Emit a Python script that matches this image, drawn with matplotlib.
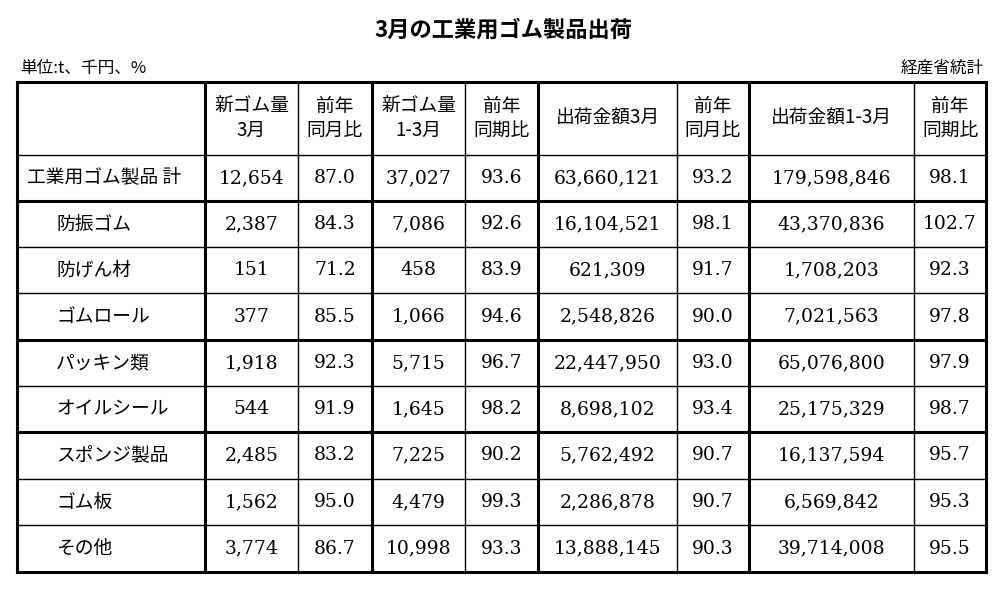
import matplotlib
matplotlib.use('Agg')
import matplotlib.pyplot as plt

plt.rcParams['font.family'] = 'Noto Sans CJK JP'

TITLE = '3月の工業用ゴム製品出荷'
UNIT = '単位:t、千円、%'
SOURCE = '経産省統計'
HEADERS = ['', '新ゴム量\n3月', '前年\n同月比', '新ゴム量\n1-3月', '前年\n同期比',
           '出荷金額3月', '前年\n同月比', '出荷金額1-3月', '前年\n同期比']
ITEMS = ['工業用ゴム製品 計', '防振ゴム', '防げん材', 'ゴムロール', 'パッキン類',
         'オイルシール', 'スポンジ製品', 'ゴム板', 'その他']
rubber_mar = ['12,654', '2,387', '151', '377', '1,918', '544', '2,485', '1,562', '3,774']
rubber_mar_yoy = ['87.0', '84.3', '71.2', '85.5', '92.3', '91.9', '83.2', '95.0', '86.7']
rubber_q1 = ['37,027', '7,086', '458', '1,066', '5,715', '1,645', '7,225', '4,479', '10,998']
rubber_q1_yoy = ['93.6', '92.6', '83.9', '94.6', '96.7', '98.2', '90.2', '99.3', '93.3']
value_mar = ['63,660,121', '16,104,521', '621,309', '2,548,826', '22,447,950',
             '8,698,102', '5,762,492', '2,286,878', '13,888,145']
value_mar_yoy = ['93.2', '98.1', '91.7', '90.0', '93.0', '93.4', '90.7', '90.7', '90.3']
value_q1 = ['179,598,846', '43,370,836', '1,708,203', '7,021,563', '65,076,800',
            '25,175,329', '16,137,594', '6,569,842', '39,714,008']
value_q1_yoy = ['98.1', '102.7', '92.3', '97.8', '97.9', '98.7', '95.7', '95.3', '95.5']

columns = [rubber_mar, rubber_mar_yoy, rubber_q1, rubber_q1_yoy,
           value_mar, value_mar_yoy, value_q1, value_q1_yoy]

# layout in pixels
xs = [17, 205, 298, 372, 465, 538, 677, 749, 914, 986]
ys = [82, 155, 201, 247, 293, 340, 386, 432, 479, 525, 572]
thick_x = {17, 205, 372, 538, 749, 986}
thick_y = {82, 201, 340, 432, 572}

fig = plt.figure(figsize=(10.07, 5.9), dpi=100)
ax = fig.add_axes([0, 0, 1, 1])
ax.set_xlim(0, 1007)
ax.set_ylim(590, 0)
ax.axis('off')

ax.text(503, 30, TITLE, ha='center', va='center', fontsize=16, fontweight='bold')
ax.text(20, 68, UNIT, ha='left', va='center', fontsize=12)
ax.text(984, 68, SOURCE, ha='right', va='center', fontsize=12)

for x in xs:
    ax.plot([x, x], [ys[0], ys[-1]], color='black', lw=2.2 if x in thick_x else 1.0,
            solid_capstyle='projecting')
for y in ys:
    ax.plot([xs[0], xs[-1]], [y, y], color='black', lw=2.2 if y in thick_y else 1.0,
            solid_capstyle='projecting')

fs = 13.5
for j, h in enumerate(HEADERS):
    cx = (xs[j] + xs[j + 1]) / 2
    ax.text(cx, (ys[0] + ys[1]) / 2, h, ha='center', va='center', fontsize=fs,
            linespacing=1.2)

for i, name in enumerate(ITEMS):
    cy = (ys[i + 1] + ys[i + 2]) / 2
    lx = 27 if i == 0 else 56
    ax.text(lx, cy, name, ha='left', va='center', fontsize=fs)
    for j, col in enumerate(columns):
        cx = (xs[j + 1] + xs[j + 2]) / 2
        ax.text(cx, cy, col[i], ha='center', va='center', fontsize=fs,
                family='DejaVu Serif')

fig.savefig('out.png', dpi=100)
